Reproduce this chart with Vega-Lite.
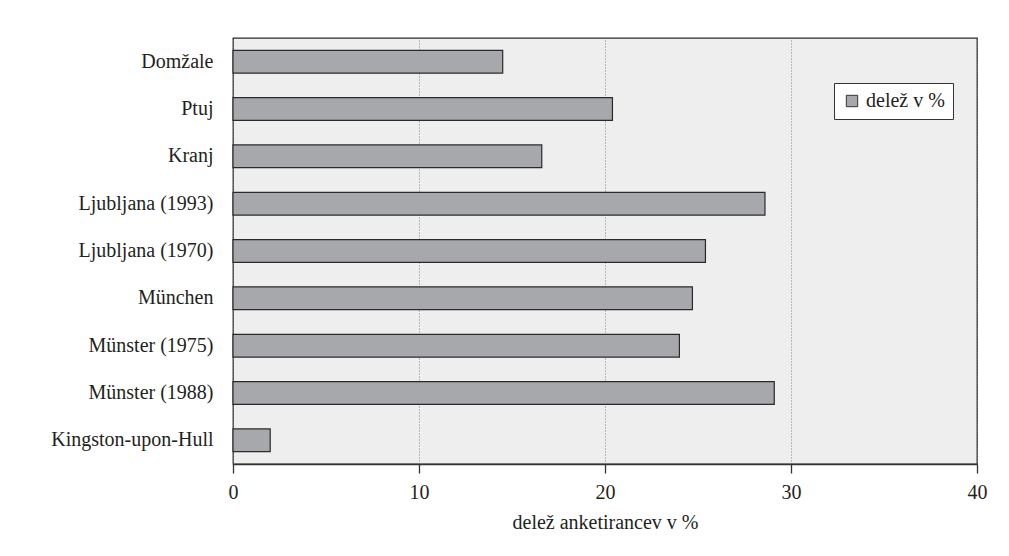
{
  "$schema": "https://vega.github.io/schema/vega-lite/v6.json",
  "autosize": "none",
  "width": 744,
  "height": 426,
  "padding": {"left": 233, "top": 38, "right": 32, "bottom": 92},
  "background": "white",
  "data": {
    "values": [
      {"mesto": "Domžale", "delez": 14.5, "serija": "delež v %"},
      {"mesto": "Ptuj", "delez": 20.4, "serija": "delež v %"},
      {"mesto": "Kranj", "delez": 16.6, "serija": "delež v %"},
      {"mesto": "Ljubljana (1993)", "delez": 28.6, "serija": "delež v %"},
      {"mesto": "Ljubljana (1970)", "delez": 25.4, "serija": "delež v %"},
      {"mesto": "München", "delez": 24.7, "serija": "delež v %"},
      {"mesto": "Münster (1975)", "delez": 24.0, "serija": "delež v %"},
      {"mesto": "Münster (1988)", "delez": 29.1, "serija": "delež v %"},
      {"mesto": "Kingston-upon-Hull", "delez": 2.0, "serija": "delež v %"}
    ]
  },
  "mark": {"type": "bar", "stroke": "#2a2a2a", "strokeWidth": 1.2},
  "encoding": {
    "y": {
      "field": "mesto",
      "type": "nominal",
      "sort": null,
      "scale": {"paddingInner": 0.52, "paddingOuter": 0.26},
      "axis": {
        "title": null,
        "domain": false,
        "ticks": false,
        "grid": false,
        "labelPadding": 20,
        "labelFont": "Liberation Serif",
        "labelFontSize": 20,
        "labelLimit": 300,
        "labelColor": "#231f20"
      }
    },
    "x": {
      "field": "delez",
      "type": "quantitative",
      "scale": {"domain": [0, 40], "nice": false},
      "axis": {
        "title": "delež anketirancev v %",
        "values": [0, 10, 20, 30, 40],
        "format": "d",
        "labelFlush": false,
        "grid": true,
        "gridColor": "#808080",
        "gridDash": [1, 2],
        "gridWidth": 1,
        "domain": true,
        "domainColor": "#333333",
        "domainWidth": 1.5,
        "tickColor": "#333333",
        "tickSize": 9,
        "tickWidth": 1.3,
        "labelPadding": 9,
        "labelFont": "Liberation Serif",
        "labelFontSize": 20,
        "labelColor": "#231f20",
        "titleFont": "Liberation Serif",
        "titleFontSize": 20,
        "titleFontWeight": "normal",
        "titleColor": "#231f20",
        "titlePadding": 10
      }
    },
    "fill": {
      "field": "serija",
      "type": "nominal",
      "scale": {"range": ["#a7a8ab"]},
      "legend": {
        "title": null,
        "orient": "none",
        "legendX": 601,
        "legendY": 45,
        "direction": "vertical",
        "fillColor": "white",
        "strokeColor": "#333333",
        "padding": 8,
        "symbolType": "square",
        "symbolSize": 130,
        "symbolStrokeColor": "#333333",
        "symbolStrokeWidth": 1,
        "labelFont": "Liberation Serif",
        "labelFontSize": 20,
        "labelColor": "#231f20",
        "labelLimit": 200
      }
    }
  },
  "config": {
    "view": {"fill": "#eeeeee", "stroke": "#2a2a2a", "strokeWidth": 1.3}
  }
}
